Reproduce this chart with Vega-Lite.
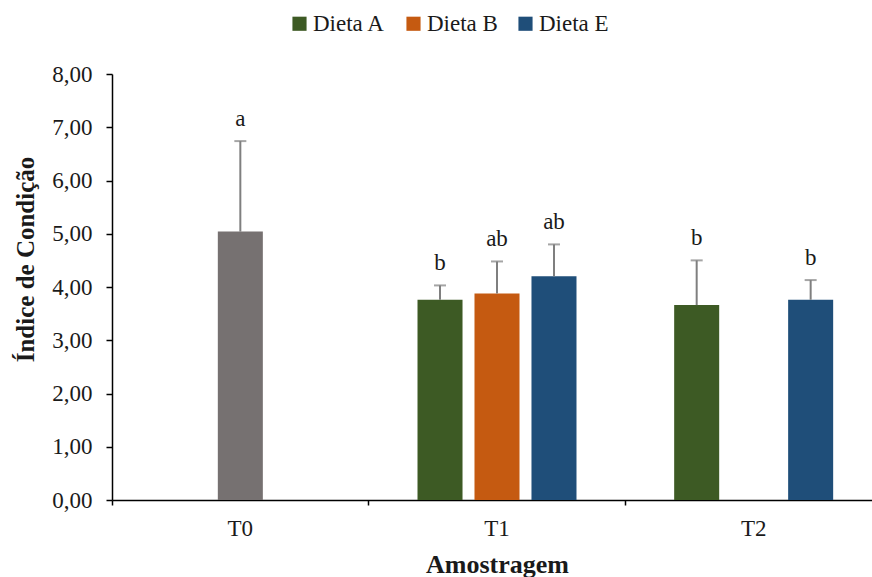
{
  "$schema": "https://vega.github.io/schema/vega-lite/v6.json",
  "autosize": {"type": "none"},
  "width": 760,
  "height": 426,
  "padding": {"left": 112, "top": 74, "right": 0, "bottom": 77},
  "background": "white",
  "config": {
    "view": {"stroke": null},
    "font": "Liberation Serif",
    "axis": {"labelFont": "Liberation Serif", "titleFont": "Liberation Serif", "labelColor": "#1a1a1a", "titleColor": "#1a1a1a"},
    "legend": {"labelFont": "Liberation Serif"},
    "text": {"font": "Liberation Serif"}
  },
  "data": {
    "values": [
      {"amostragem": "T0", "serie": "Dieta B", "grupo": "Inicial", "media": 5.04, "sup": 6.74, "letra": "a"},
      {"amostragem": "T1", "serie": "Dieta A", "grupo": "Dieta A", "media": 3.76, "sup": 4.03, "letra": "b"},
      {"amostragem": "T1", "serie": "Dieta B", "grupo": "Dieta B", "media": 3.88, "sup": 4.48, "letra": "ab"},
      {"amostragem": "T1", "serie": "Dieta E", "grupo": "Dieta E", "media": 4.20, "sup": 4.80, "letra": "ab"},
      {"amostragem": "T2", "serie": "Dieta A", "grupo": "Dieta A", "media": 3.66, "sup": 4.50, "letra": "b"},
      {"amostragem": "T2", "serie": "Dieta E", "grupo": "Dieta E", "media": 3.76, "sup": 4.13, "letra": "b"}
    ]
  },
  "encoding": {
    "x": {
      "field": "amostragem", "type": "nominal",
      "scale": {"domain": ["T0", "T1", "T2"], "range": [0, 770], "paddingInner": 0, "paddingOuter": 0},
      "axis": {
        "title": "Amostragem", "titleFont": "Liberation Serif", "titleFontSize": 26, "titleFontWeight": "bold", "titlePadding": 11,
        "labelFont": "Liberation Serif", "labelFontSize": 23, "labelAngle": 0, "labelPadding": 12,
        "bandPosition": 0, "tickSize": 5, "tickColor": "#000", "domainColor": "#000", "domainWidth": 1.5, "tickWidth": 1.5,
        "grid": false
      }
    },
    "xOffset": {
      "field": "serie", "type": "nominal",
      "scale": {"domain": ["Dieta A", "Dieta B", "Dieta E"], "paddingInner": 0.21, "paddingOuter": 0.857}
    }
  },
  "layer": [
    {
      "mark": {"type": "bar"},
      "encoding": {
        "y": {
          "field": "media", "type": "quantitative",
          "scale": {"domain": [0, 8], "nice": false},
          "axis": {
            "title": "Índice de Condição", "titleFont": "Liberation Serif", "titleFontSize": 25, "titleFontWeight": "bold",
            "titleAngle": -90, "titleX": -87, "titleY": 185, "titleAlign": "center", "titleBaseline": "middle",
            "values": [0, 1, 2, 3, 4, 5, 6, 7, 8],
            "labelExpr": "replace(format(datum.value, '.2f'), '.', ',')",
            "labelFont": "Liberation Serif", "labelFontSize": 23, "labelPadding": 14, "tickSize": 6, "tickColor": "#000",
            "domainColor": "#000", "domainWidth": 1.5, "tickWidth": 1.5, "grid": false
          }
        },
        "color": {
          "field": "grupo", "type": "nominal",
          "scale": {"domain": ["Inicial", "Dieta A", "Dieta B", "Dieta E"], "range": ["#767171", "#3d5a24", "#c55a11", "#1f4e79"]},
          "legend": {
            "values": ["Dieta A", "Dieta B", "Dieta E"],
            "title": null, "orient": "none", "direction": "horizontal",
            "legendX": 176, "legendY": -62, "padding": 0,
            "symbolType": "square", "symbolSize": 200, "symbolStrokeWidth": 0, "symbolOpacity": 1,
            "labelFont": "Liberation Serif", "labelFontSize": 23, "labelOffset": 2, "columnPadding": 16, "labelColor": "#1a1a1a"
          }
        }
      }
    },
    {
      "mark": {"type": "rule", "color": "#7f7f7f", "strokeWidth": 2},
      "encoding": {
        "y": {"field": "media", "type": "quantitative"},
        "y2": {"field": "sup"}
      }
    },
    {
      "mark": {"type": "tick", "color": "#7f7f7f", "thickness": 2, "size": 12},
      "encoding": {
        "y": {"field": "sup", "type": "quantitative"}
      }
    },
    {
      "mark": {"type": "text", "fontSize": 23, "baseline": "alphabetic", "dy": -15, "color": "#1a1a1a", "font": "Liberation Serif"},
      "encoding": {
        "y": {"field": "sup", "type": "quantitative"},
        "text": {"field": "letra"}
      }
    }
  ]
}
